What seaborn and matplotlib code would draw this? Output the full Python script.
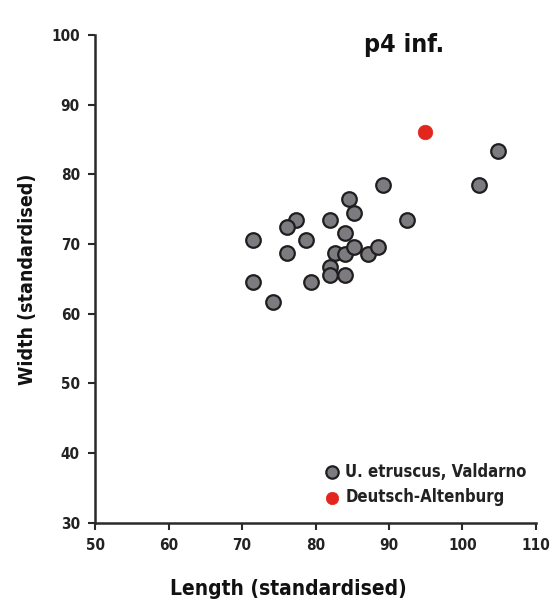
import matplotlib
matplotlib.use("Agg")
import matplotlib.pyplot as plt
import seaborn as sns
import pandas as pd

# Data
etruscus_length = [89.2, 84.5, 85.2, 92.4, 77.3, 76.1, 82.0, 84.0, 71.5, 78.7, 76.1,
                   82.7, 84.0, 85.2, 87.1, 88.5, 82.0, 82.0, 84.0, 71.5, 79.4, 74.2,
                   104.8, 102.3]
etruscus_width = [78.5, 76.4, 74.5, 73.4, 73.5, 72.5, 73.4, 71.6, 70.6, 70.6, 68.7,
                  68.7, 68.6, 69.6, 68.6, 69.6, 66.7, 65.6, 65.6, 64.6, 64.6, 61.7,
                  83.3, 78.5]
da_length = [94.9]
da_width = [86.1]
x_ticks = [50, 60, 70, 80, 90, 100, 110]
y_ticks = [30, 40, 50, 60, 70, 80, 90, 100]

sns.set_style("ticks")
plt.rcParams["font.family"] = ["DejaVu Sans", "DejaVu Sans"]
plt.rcParams["font.stretch"] = "condensed"

df_e = pd.DataFrame({"Length": etruscus_length, "Width": etruscus_width})
df_d = pd.DataFrame({"Length": da_length, "Width": da_width})

fig = plt.figure(figsize=(5.56, 6.01), dpi=100)
ax = fig.add_axes([0.171, 0.130, 0.793, 0.812])

sns.scatterplot(data=df_e, x="Length", y="Width", ax=ax, s=110, color="#7d7b80",
                edgecolor="#1e1e1e", linewidth=1.6, label="U. etruscus, Valdarno", zorder=3)
sns.scatterplot(data=df_d, x="Length", y="Width", ax=ax, s=110, color="#e3261d",
                edgecolor="#e3261d", linewidth=0.5, label="Deutsch-Altenburg", zorder=3)

ax.set_xlim(50, 110)
ax.set_ylim(30, 100)
ax.set_xticks(x_ticks)
ax.set_yticks(y_ticks)
ax.tick_params(axis="both", direction="out", length=5, width=1.5, color="#2a2a2a",
               labelsize=11, labelcolor="#222222", pad=6)
for lab in ax.get_xticklabels() + ax.get_yticklabels():
    lab.set_fontweight("bold")
for side in ["top", "right"]:
    ax.spines[side].set_visible(False)
for side in ["left", "bottom"]:
    ax.spines[side].set_linewidth(1.8)
    ax.spines[side].set_color("#2a2a2a")

ax.set_xlabel("Length (standardised)", fontsize=15, fontweight="bold", color="#111111")
ax.set_ylabel("Width (standardised)", fontsize=14, fontweight="bold", color="#111111")
ax.xaxis.set_label_coords(0.438, -0.136)
ax.yaxis.set_label_coords(-0.154, 0.5)
ax.xaxis.label.set_va("center")
ax.yaxis.label.set_va("center")
ax.text(0.70, 0.98, "p4 inf.", transform=ax.transAxes, fontsize=18, fontweight="bold",
        ha="center", va="center", color="#111111")

leg = ax.legend(loc="lower right", frameon=False, fontsize=12, handletextpad=-0.2,
                borderaxespad=0.3, labelspacing=0.45, markerscale=0.85,
                bbox_to_anchor=(1.005, 0.01))
for t in leg.get_texts():
    t.set_fontweight("bold")
    t.set_color("#222222")

fig.savefig("out.png", dpi=100)
